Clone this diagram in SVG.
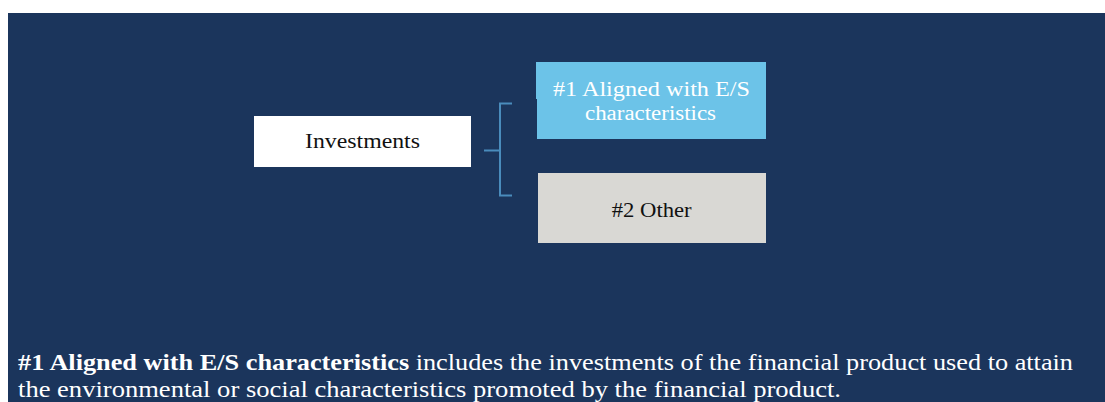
<svg xmlns="http://www.w3.org/2000/svg" width="1105" height="402" viewBox="0 0 1105 402">
<style>
  .lbl { font-family: "Liberation Serif", "DejaVu Serif", serif; font-size: 20.5px; text-anchor: middle; }
  .dark { fill: #111111; }
  .light { fill: #ffffff; }
  .note { font-family: "Liberation Serif", "DejaVu Serif", serif; font-size: 23.5px; fill: #ffffff; }
  .conn { fill: none; stroke: #4a8cbc; stroke-width: 2; }
</style>
<rect x="0" y="0" width="1105" height="402" fill="#ffffff"/>
<rect x="8" y="13" width="1097" height="389" fill="#1b355c"/>

<g id="node-investments">
  <rect x="254" y="116" width="217" height="51" fill="#ffffff"/>
  <text class="lbl dark" x="362.5" y="148" textLength="115" lengthAdjust="spacingAndGlyphs">Investments</text>
</g>

<g id="node-aligned">
  <rect x="536" y="62" width="230" height="37" fill="#6cc3e8"/>
  <rect x="537" y="98" width="229" height="41" fill="#6cc3e8"/>
  <text class="lbl light" x="651.5" y="96" textLength="197" lengthAdjust="spacingAndGlyphs">#1 Aligned with E/S</text>
  <text class="lbl light" x="650.5" y="120" textLength="131" lengthAdjust="spacingAndGlyphs">characteristics</text>
</g>

<g id="node-other">
  <rect x="538" y="173" width="228" height="70" fill="#d9d8d4"/>
  <text class="lbl dark" x="651.7" y="216.5" textLength="80" lengthAdjust="spacingAndGlyphs">#2 Other</text>
</g>

<g id="connectors">
  <path class="conn" d="M484 150.5 H500 M512 103.5 H500 V195.5 H512"/>
</g>

<g id="caption">
  <text class="note" x="18" y="370" textLength="1055" lengthAdjust="spacingAndGlyphs"><tspan font-weight="bold">#1 Aligned with E/S characteristics</tspan> includes the investments of the financial product used to attain</text>
  <text class="note" x="18" y="397" textLength="823" lengthAdjust="spacingAndGlyphs">the environmental or social characteristics promoted by the financial product.</text>
</g>
</svg>
